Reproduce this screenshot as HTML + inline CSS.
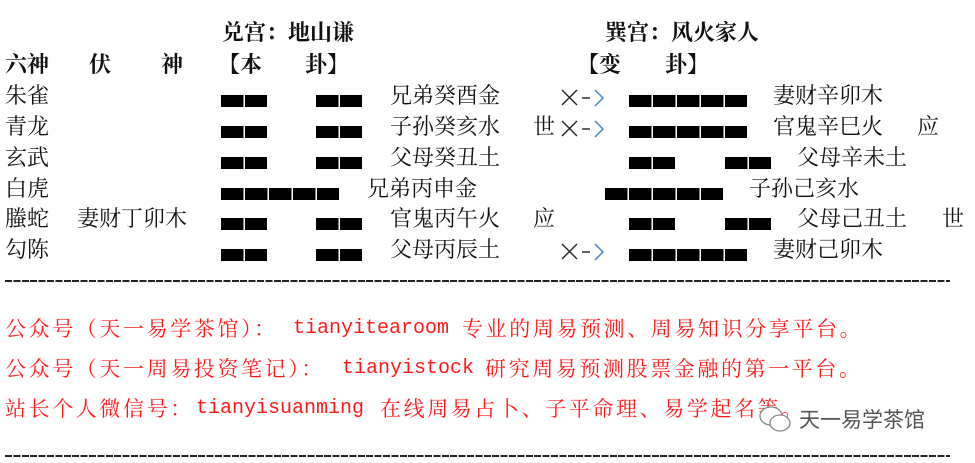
<!DOCTYPE html>
<html><head><meta charset="utf-8"><style>
body{margin:0;width:975px;height:463px;background:#fff;position:relative;overflow:hidden;font-family:"Liberation Serif","Noto Serif CJK SC","Noto Sans CJK SC",serif;}
.t{position:absolute;font-size:22px;line-height:24px;color:#111;white-space:nowrap;}
.b{font-weight:bold;}
.k{position:absolute;height:12px;background:repeating-linear-gradient(90deg,#000 0 22.5px,#fff 22.5px 24px);}
.rc,.rl{position:absolute;color:#ff1a1a;white-space:nowrap;line-height:22px;}
.rc{font-size:21px;letter-spacing:2.6px;}
.rl{font-size:20px;font-family:"Liberation Mono",monospace;}
.d{position:absolute;left:5px;width:945px;height:2px;background:repeating-linear-gradient(90deg,#222 0 7px,transparent 7px 8.4px);}
</style></head><body>
<div class="t b" style="left:222px;top:21px">兑宫：地山谦</div>
<div class="t b" style="left:605px;top:21px">巽宫：风火家人</div>
<div class="t b" style="left:5px;top:53px">六神</div>
<div class="t b" style="left:89px;top:53px">伏</div>
<div class="t b" style="left:161px;top:53px">神</div>
<div class="t b" style="left:218px;top:53px">【本</div>
<div class="t b" style="left:305px;top:53px">卦】</div>
<div class="t b" style="left:577px;top:53px">【变</div>
<div class="t b" style="left:665px;top:53px">卦】</div>

<div class="t" style="left:5px;top:84px">朱雀</div>
<div class="t" style="left:5px;top:115px">青龙</div>
<div class="t" style="left:5px;top:146px">玄武</div>
<div class="t" style="left:5px;top:177px">白虎</div>
<div class="t" style="left:5px;top:207px">螣蛇</div>
<div class="t" style="left:5px;top:238px">勾陈</div>
<div class="t" style="left:77px;top:207px">妻财丁卯木</div>

<!-- left hexagram -->
<div class="k" style="left:221px;top:95px;width:46px"></div><div class="k" style="left:316px;top:95px;width:46px"></div>
<div class="k" style="left:221px;top:126px;width:46px"></div><div class="k" style="left:316px;top:126px;width:46px"></div>
<div class="k" style="left:221px;top:157px;width:46px"></div><div class="k" style="left:316px;top:157px;width:46px"></div>
<div class="k" style="left:221px;top:188px;width:118px"></div>
<div class="k" style="left:221px;top:218px;width:46px"></div><div class="k" style="left:316px;top:218px;width:46px"></div>
<div class="k" style="left:221px;top:249px;width:46px"></div><div class="k" style="left:316px;top:249px;width:46px"></div>

<div class="t" style="left:390px;top:84px">兄弟癸酉金</div>
<div class="t" style="left:390px;top:115px">子孙癸亥水</div>
<div class="t" style="left:390px;top:146px">父母癸丑土</div>
<div class="t" style="left:367px;top:177px">兄弟丙申金</div>
<div class="t" style="left:390px;top:207px">官鬼丙午火</div>
<div class="t" style="left:533px;top:207px">应</div>
<div class="t" style="left:390px;top:238px">父母丙辰土</div>
<div class="t" style="left:533px;top:115px">世</div>

<svg style="position:absolute;left:560px;top:88px" width="46" height="20"><path d="M2 2L17 17M17 2L2 17" stroke="#222" stroke-width="1.4"/><path d="M22 10H30" stroke="#222" stroke-width="1.4"/><path d="M35 2L43 10L35 18" stroke="#3b7fc4" fill="none" stroke-width="1.4"/></svg>
<svg style="position:absolute;left:560px;top:119px" width="46" height="20"><path d="M2 2L17 17M17 2L2 17" stroke="#222" stroke-width="1.4"/><path d="M22 10H30" stroke="#222" stroke-width="1.4"/><path d="M35 2L43 10L35 18" stroke="#3b7fc4" fill="none" stroke-width="1.4"/></svg>
<svg style="position:absolute;left:560px;top:242px" width="46" height="20"><path d="M2 2L17 17M17 2L2 17" stroke="#222" stroke-width="1.4"/><path d="M22 10H30" stroke="#222" stroke-width="1.4"/><path d="M35 2L43 10L35 18" stroke="#3b7fc4" fill="none" stroke-width="1.4"/></svg>

<!-- right hexagram -->
<div class="k" style="left:629px;top:95px;width:118px"></div>
<div class="k" style="left:629px;top:126px;width:118px"></div>
<div class="k" style="left:629px;top:157px;width:46px"></div><div class="k" style="left:725px;top:157px;width:46px"></div>
<div class="k" style="left:605px;top:188px;width:118px"></div>
<div class="k" style="left:629px;top:218px;width:46px"></div><div class="k" style="left:725px;top:218px;width:46px"></div>
<div class="k" style="left:629px;top:249px;width:118px"></div>

<div class="t" style="left:773px;top:84px">妻财辛卯木</div>
<div class="t" style="left:773px;top:115px">官鬼辛巳火</div>
<div class="t" style="left:917px;top:115px">应</div>
<div class="t" style="left:797px;top:146px">父母辛未土</div>
<div class="t" style="left:749px;top:177px">子孙己亥水</div>
<div class="t" style="left:797px;top:207px">父母己丑土</div>
<div class="t" style="left:942px;top:207px">世</div>
<div class="t" style="left:773px;top:238px">妻财己卯木</div>

<div class="d" style="top:280px"></div>

<div class="rc" style="left:5px;top:318px">公众号（天一易学茶馆）：</div>
<div class="rl" style="left:293px;top:318px">tianyitearoom</div>
<div class="rc" style="left:462px;top:318px">专业的周易预测、周易知识分享平台。</div>

<div class="rc" style="left:5px;top:358px">公众号（天一周易投资笔记）：</div>
<div class="rl" style="left:342px;top:358px">tianyistock</div>
<div class="rc" style="left:485px;top:358px">研究周易预测股票金融的第一平台。</div>

<div class="rc" style="left:5px;top:398px">站长个人微信号：</div>
<div class="rl" style="left:196px;top:398px">tianyisuanming</div>
<div class="rc" style="left:380px;top:398px">在线周易占卜、子平命理、易学起名等。</div>

<svg style="position:absolute;left:756px;top:403px" width="40" height="36"><ellipse cx="15" cy="13" rx="11" ry="9" fill="#fff" stroke="#888" stroke-width="1.3"/><ellipse cx="24" cy="20" rx="10" ry="8" fill="#fff" stroke="#888" stroke-width="1.3"/></svg>
<div class="t" style="left:799px;top:409px;color:#555;font-family:'Liberation Sans','Noto Sans CJK SC',sans-serif;font-size:21px">天一易学茶馆</div>
<div class="d" style="top:455px"></div>
</body></html>
